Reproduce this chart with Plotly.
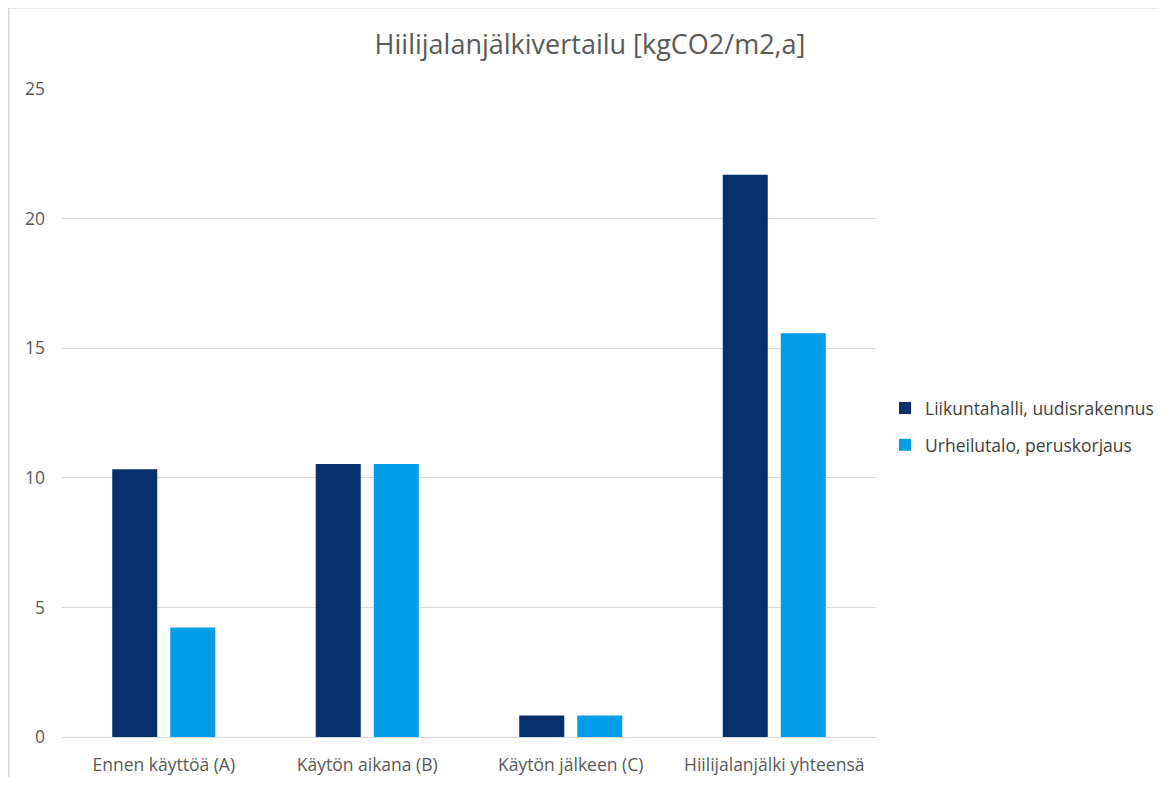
import plotly.graph_objects as go

categories = ["Ennen käyttöä (A)", "Käytön aikana (B)", "Käytön jälkeen (C)", "Hiilijalanjälki yhteensä"]
series_names = ["Liikuntahalli, uudisrakennus", "Urheilutalo, peruskorjaus"]
liikuntahalli = [10.33, 10.53, 0.83, 21.69]
urheilutalo = [4.22, 10.53, 0.83, 15.58]
colors = ["#06306b", "#009ee8"]
y_ticks = [0, 5, 10, 15, 20, 25]
title_text = "Hiilijalanjälkivertailu [kgCO2/m2,a]"

FONT = "Open Sans"
GREY = "#595959"

fig = go.Figure()
for i, (name, vals) in enumerate(zip(series_names, [liikuntahalli, urheilutalo])):
    fig.add_trace(go.Bar(
        x=categories, y=vals, name=name,
        marker=dict(color=colors[i], line=dict(width=0)),
        legendgroup=f"g{i}",
    ))

# page body has an 8px margin; size the figure to fit the window
OFF = 8
W, H = 1166 - 2 * OFF, 785 - 2 * OFF
L, T = 62 - OFF, 89 - OFF
plot_right = 876 - OFF
plot_bottom = 737.5 - OFF
R = W - plot_right
B = H - plot_bottom
pw = plot_right - L
ph = plot_bottom - T

def px_x(x):
    return (x - OFF - L) / pw

def px_y(y):
    return (plot_bottom - (y - OFF)) / ph

fig.update_layout(
    width=W, height=H,
    margin=dict(l=L, r=R, t=T, b=B, autoexpand=False),
    paper_bgcolor="white", plot_bgcolor="white",
    barmode="group", bargap=0.43, bargroupgap=0.224,
    title=dict(text=title_text, xref="container", x=(590 - OFF) / W, xanchor="center",
               yref="container", y=1 - (45 - OFF) / H, yanchor="middle",
               font=dict(family=FONT, size=27, color=GREY)),
    font=dict(family=FONT, size=17.5, color=GREY),
    xaxis=dict(showgrid=False, showline=False, ticks="", ticklabelstandoff=15,
               tickfont=dict(family=FONT, size=17.5, color=GREY)),
    yaxis=dict(range=[0, 25], tickvals=y_ticks, showgrid=True,
               gridcolor="#d9d9d9", gridwidth=1.3, zeroline=True,
               zerolinecolor="#d9d9d9", zerolinewidth=1.3, showline=False,
               ticks="", ticklabelstandoff=16,
               tickfont=dict(family=FONT, size=17.5, color=GREY)),
    legend=dict(x=px_x(885), xanchor="left", y=px_y(427), yanchor="middle",
                font=dict(family=FONT, size=17.5, color="#404040"),
                tracegroupgap=11, itemwidth=30, bgcolor="rgba(0,0,0,0)"),
    shapes=[dict(type="rect", xref="paper", yref="paper",
                 x0=px_x(OFF + 0.75), x1=px_x(1200), y0=px_y(820), y1=px_y(OFF - 0.25),
                 line=dict(color="#d9d9d9", width=1.5), fillcolor="rgba(0,0,0,0)",
                 layer="below")],
)

fig.write_html("out.html")
